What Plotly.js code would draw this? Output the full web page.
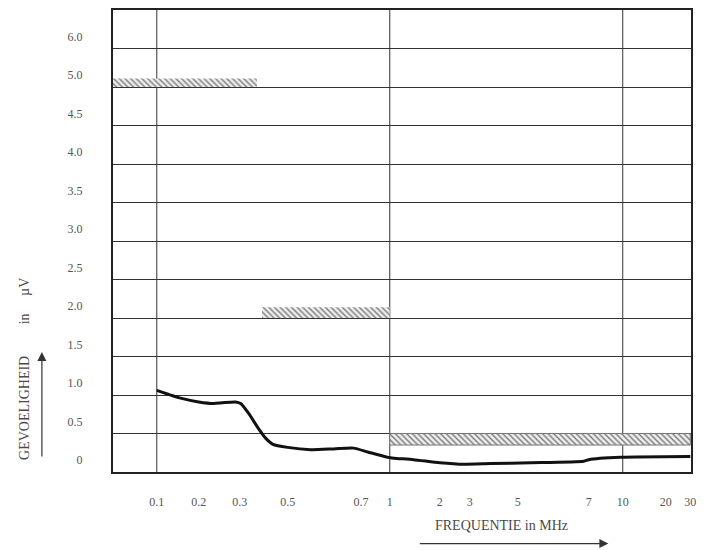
<!DOCTYPE html>
<html>
<head>
<meta charset="utf-8">
<script src="https://cdn.plot.ly/plotly-3.0.1.min.js"></script>
<style>html,body{margin:0;padding:0;background:#fff;}#chart{width:716px;height:550px;}</style>
</head>
<body>
<div id="chart"></div>
<script>
// Printed (non-uniform) frequency scale of the chart: label -> position in decades from 0.1 MHz
const freqTicks = [0.1, 0.2, 0.3, 0.5, 0.7, 1, 2, 3, 5, 7, 10, 20, 30];
const freqLabels = ['0.1', '0.2', '0.3', '0.5', '0.7', '1', '2', '3', '5', '7', '10', '20', '30'];
const freqTickPos = [0, 0.18, 0.356, 0.562, 0.876, 1, 1.215, 1.343, 1.549, 1.854, 2, 2.185, 2.29];
const decadeLines = [0.1, 1, 10];

// Sensitivity axis (grid lines every step; the last one is printed as 6.0)
const sensTickVals = [0, 0.5, 1.0, 1.5, 2.0, 2.5, 3.0, 3.5, 4.0, 4.5, 5.0, 5.5];
const sensLabels = ['0', '0.5', '1.0', '1.5', '2.0', '2.5', '3.0', '3.5', '4.0', '4.5', '5.0', '6.0'];

// Measured sensitivity curve
const curveFreq = [0.1, 0.13, 0.148, 0.2, 0.232, 0.253, 0.288, 0.303, 0.33, 0.363, 0.395, 0.427, 0.5, 0.556, 0.618, 0.677, 0.762, 0.98, 1.057, 1.39, 2.0, 2.77, 3.75, 5.31, 6.84, 7.0, 9.8, 30];
const curveSens = [1.06, 0.99, 0.96, 0.91, 0.89, 0.9, 0.91, 0.89, 0.76, 0.58, 0.44, 0.36, 0.32, 0.29, 0.3, 0.31, 0.26, 0.19, 0.18, 0.16, 0.12, 0.1, 0.11, 0.12, 0.14, 0.16, 0.19, 0.2];

// Required-sensitivity bands (hatched)
const bandStart = [0.048, 0.38, 1];
const bandEnd = [0.36, 1, 30];
const bandLow = [5.0, 2.0, 0.35];
const bandHigh = [5.11, 2.14, 0.5];

function fpos(f) {
  const lf = Math.log(f);
  let i = 0;
  if (f <= freqTicks[0]) i = 0;
  else if (f >= freqTicks[freqTicks.length - 1]) i = freqTicks.length - 2;
  else { while (i < freqTicks.length - 2 && f > freqTicks[i + 1]) i++; }
  const f0 = freqTicks[i], f1 = freqTicks[i + 1];
  const t = (lf - Math.log(f0)) / (Math.log(f1) - Math.log(f0));
  return freqTickPos[i] + t * (freqTickPos[i + 1] - freqTickPos[i]);
}

const bands = {
  type: 'bar', orientation: 'h',
  base: bandStart.map(fpos),
  x: bandStart.map((s, i) => fpos(bandEnd[i]) - fpos(s)),
  y: bandLow.map((l, i) => (l + bandHigh[i]) / 2),
  width: bandLow.map((l, i) => bandHigh[i] - l),
  marker: {
    color: '#ededed',
    line: {color: ['#999', '#999', '#777'], width: [0, 0, 1]},
    pattern: {shape: '\\', fgcolor: '#7a7a7a', bgcolor: '#eeeeee', size: 4, solidity: 0.35, fillmode: 'replace'}
  },
  hoverinfo: 'skip', showlegend: false
};

const curve = {
  type: 'scatter', mode: 'lines',
  x: curveFreq.map(fpos), y: curveSens,
  line: {color: '#111', width: 3, shape: 'spline', smoothing: 0.6},
  hoverinfo: 'skip', showlegend: false
};

const vlines = decadeLines.map(f => ({
  type: 'line', xref: 'x', yref: 'paper', x0: fpos(f), x1: fpos(f), y0: 0, y1: 1,
  line: {color: '#333', width: 1}, layer: 'below'
}));

const sp = n => '&nbsp;'.repeat(n);

const layout = {
  width: 716, height: 550,
  margin: {l: 113, r: 25, t: 10, b: 78},
  paper_bgcolor: '#fff', plot_bgcolor: '#fff',
  font: {family: 'Liberation Serif, Times New Roman, serif', size: 12, color: '#4a4a4a'},
  barmode: 'overlay',
  xaxis: {
    range: [-0.188, 2.293], tickmode: 'array', tickvals: freqTickPos, ticktext: freqLabels,
    showgrid: false, zeroline: false, ticks: '', ticklabelstandoff: 18,
    showline: true, mirror: true, linecolor: '#222', linewidth: 2,
    tickfont: {size: 12, color: '#555'}
  },
  yaxis: {
    range: [0, 6.0], tickmode: 'array', tickvals: sensTickVals, ticktext: sensLabels,
    showgrid: true, gridcolor: '#333', gridwidth: 1, zeroline: false, ticks: '',
    ticklabelshift: -12, ticklabelstandoff: 26,
    showline: true, mirror: true, linecolor: '#222', linewidth: 2,
    tickfont: {size: 12, color: '#555'}
  },
  shapes: vlines,
  annotations: [
    {xref: 'paper', yref: 'paper', x: -0.152, y: 0.022, xanchor: 'center', yanchor: 'bottom',
     text: 'GEVOELIGHEID' + sp(9) + 'in' + sp(5) + 'µV', textangle: -90, showarrow: false,
     font: {size: 14, color: '#4a4a4a'}},
    {xref: 'paper', yref: 'paper', x: -0.123, y: 0.26, ax: 0, ay: 106, axref: 'pixel', ayref: 'pixel',
     text: '', showarrow: true, arrowhead: 2, arrowsize: 1.5, arrowwidth: 1.2, arrowcolor: '#333'},
    {xref: 'paper', yref: 'paper', x: 0.673, y: -0.115, xanchor: 'center', yanchor: 'middle',
     text: 'FREQUENTIE in MHz', showarrow: false, font: {size: 14, color: '#4a4a4a'}},
    {xref: 'paper', yref: 'paper', x: 0.857, y: -0.155, ax: -190, ay: 0, axref: 'pixel', ayref: 'pixel',
     text: '', showarrow: true, arrowhead: 2, arrowsize: 1.5, arrowwidth: 1.2, arrowcolor: '#333'}
  ]
};

Plotly.newPlot('chart', [bands, curve], layout, {displayModeBar: false, staticPlot: true});
</script>
</body>
</html>
